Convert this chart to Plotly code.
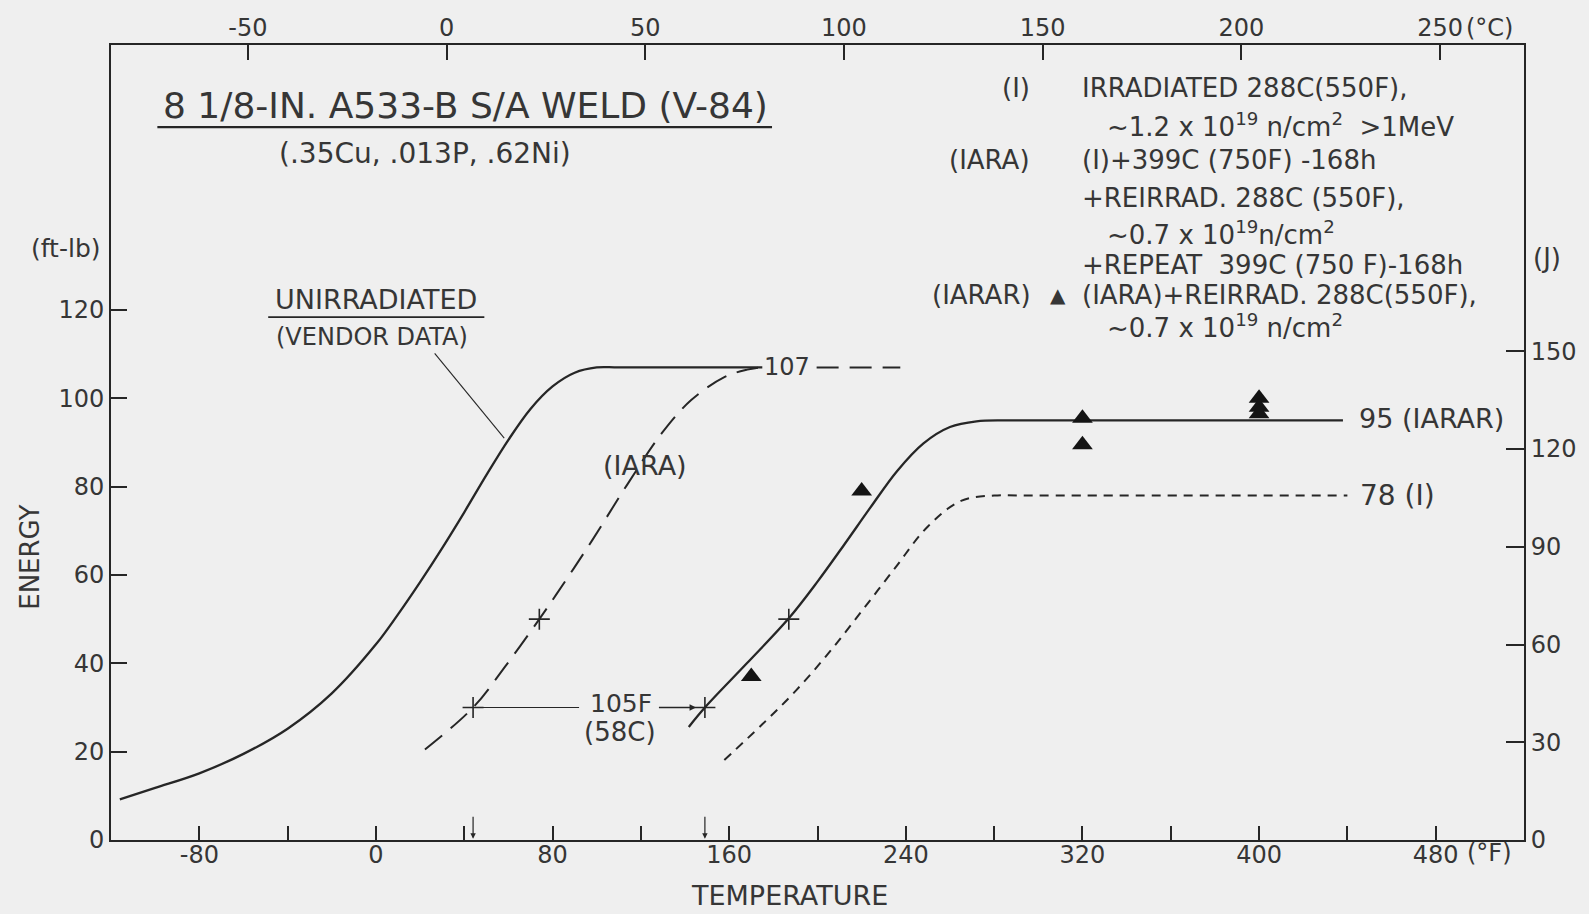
import plotly.graph_objects as go

# Charpy V-notch energy (ft-lb) vs test temperature (F), 8 1/8-in. A533-B S/A weld V-84
temp_unirradiated = [-116, -100, -80, -60, -40, -20, 0, 10, 20, 30, 40, 50, 60, 70, 80, 90, 100, 110, 175]
energy_unirradiated = [9.2, 11.8, 15.1, 19.5, 25.2, 33.2, 44.3, 51.1, 58.4, 66.1, 74.2, 82.6, 90.6,
                       97.6, 102.7, 105.8, 107, 107, 107]

temp_iara = [22.2, 44, 59, 74, 86, 98, 113.6, 129.3, 142.8, 157.8, 168.2, 174]
energy_iara = [20.5, 30, 39.6, 50, 58.8, 67.9, 80.3, 92, 99.6, 104.8, 106.5, 107]
temp_iara_shelf = [199.6, 237.5]
energy_iara_shelf = [107, 107]

temp_iarar = [141.7, 149, 168, 187, 200, 212, 224, 236, 248, 260, 272, 285, 300, 438]
energy_iarar = [25.6, 30, 40, 50.2, 58.5, 66.8, 75.3, 83.5, 89.8, 93.5, 94.8, 95, 95, 95]

temp_irr = [157.8, 175, 190, 205, 220, 235, 250, 265, 280, 295, 440]
energy_irr = [18.1, 26.2, 33.7, 42.3, 51.8, 61.5, 71.0, 76.8, 78, 78, 78]

# IARAR test results
temp_iarar_data = [170, 220, 320, 320, 400, 400, 400]
energy_iarar_data = [37, 79, 95.5, 89.5, 100, 98, 96.5]

# 30 and 50 ft-lb index temperatures
energy_index = [30, 50]
temp_index_iara = [44, 74]
temp_index_iarar = [149, 187]
shift_label = ["105F", "(58C)"]

# shelf values written at the curve ends
shelf_unirradiated = 107
shelf_iarar = 95
shelf_irr = 78

# axis ticks
f_ticks = list(range(-80, 481, 40))
f_labels = [str(t) if t % 80 == 0 else "" for t in f_ticks]
c_ticks = [-50, 0, 50, 100, 150, 200, 250]
ftlb_ticks = [0, 20, 40, 60, 80, 100, 120]
joule_ticks = [0, 30, 60, 90, 120, 150]

F_RANGE = [-120, 520]
E_RANGE = [0, 180]
FTLB_TO_J = 1.35582


def f_to_c(f):
    return (f - 32) / 1.8


def px(f):
    """temperature (F) -> paper fraction"""
    return (f - F_RANGE[0]) / (F_RANGE[1] - F_RANGE[0])


def py(e):
    """energy (ft-lb) -> paper fraction"""
    return (e - E_RANGE[0]) / (E_RANGE[1] - E_RANGE[0])


INK = "#262626"
TEXT = "#363636"
BG = "#efefef"
FONT = "DejaVu Sans"

fig = go.Figure()


def curve(x, y, dash, width):
    fig.add_trace(go.Scatter(
        x=x, y=y, mode="lines", line=dict(color=INK, width=width, dash=dash,
                                          shape="spline", smoothing=1.0),
        showlegend=False, hoverinfo="skip"))


curve(temp_unirradiated, energy_unirradiated, "solid", 2.3)
curve(temp_iara, energy_iara, "22px,11px", 2.0)
curve(temp_iara_shelf, energy_iara_shelf, "22px,11px", 2.0)
curve(temp_iarar, energy_iarar, "solid", 2.3)
curve(temp_irr, energy_irr, "9px,7px", 2.0)

# index-temperature crosses
fig.add_trace(go.Scatter(
    x=temp_index_iara + temp_index_iarar, y=energy_index + energy_index,
    mode="markers", marker=dict(symbol="cross-thin", size=15,
                                line=dict(color=INK, width=1.6)),
    showlegend=False, hoverinfo="skip"))

# IARAR data points
fig.add_trace(go.Scatter(
    x=temp_iarar_data, y=energy_iarar_data, mode="markers",
    marker=dict(symbol="triangle-up", size=18, color="#141414"),
    showlegend=False, hoverinfo="skip"))

# empty trace carrying the Celsius / Joule axes
fig.add_trace(go.Scatter(x=[None], y=[None], xaxis="x2", yaxis="y2",
                         showlegend=False, hoverinfo="skip"))

annotations = []
shapes = []


def text(x, y, s, size=23, xanchor="center", yanchor="middle", **kw):
    annotations.append(dict(x=x, y=y, xref=kw.pop("xref", "x"), yref=kw.pop("yref", "y"),
                            text=s, showarrow=False, xanchor=xanchor, yanchor=yanchor,
                            font=dict(family=FONT, size=size, color=TEXT), **kw))


def line(x0, y0, x1, y1, width=1.2):
    shapes.append(dict(type="line", xref="x", yref="y", x0=x0, y0=y0, x1=x1, y1=y1,
                       line=dict(color=INK, width=width)))


# title block
text(40.5, 166.3, "8 1/8-IN. A533-B S/A WELD (V-84)", size=36)
line(-99, 161.4, 179.4, 161.4, width=2.2)
text(22.4, 155.4, "(.35Cu, .013P, .62Ni)", size=28)

# unirradiated label with leader
text(0.2, 122.4, "UNIRRADIATED", size=27)
line(-48.8, 118.4, 49.1, 118.4, width=1.8)
text(-1.6, 113.9, "(VENDOR DATA)", size=24)
line(26.6, 110.2, 58.1, 91.0, width=1.1)

# curve-end labels
text(186.3, shelf_unirradiated, str(shelf_unirradiated), size=24)
text(444.5, shelf_iarar + 0.4, f"{shelf_iarar} (IARAR)", size=27, xanchor="left")
text(445.0, shelf_irr, f"{shelf_irr} (I)", size=28, xanchor="left")
text(121.9, 84.9, "(IARA)", size=27)

# transition temperature shift
text(111.2, 31.0, shift_label[0], size=25)
text(110.4, 24.5, shift_label[1], size=26)
line(temp_index_iara[0] + 3.5, energy_index[0], 92.0, energy_index[0], width=1.2)
annotations.append(dict(x=temp_index_iarar[0] - 4, y=energy_index[0],
                        ax=127.5, ay=energy_index[0], axref="x", ayref="y",
                        xref="x", yref="y", text="", showarrow=True,
                        arrowhead=2, arrowsize=1.0, arrowwidth=1.3, arrowcolor=INK))
for t in (temp_index_iara[0], temp_index_iarar[0]):
    annotations.append(dict(x=t, y=0.3, ax=t, ay=5.6, axref="x", ayref="y",
                            xref="x", yref="y", text="", showarrow=True,
                            arrowhead=2, arrowsize=0.9, arrowwidth=1.2, arrowcolor=INK))

# condition key
rows = [170.2, 161.9, 153.9, 145.3, 137.5, 130.3, 123.3, 116.4]
text(297, rows[0], "(I)", size=26, xanchor="right")
text(297, rows[2], "(IARA)", size=26, xanchor="right")
text(297.5, rows[6], "(IARAR)", size=26, xanchor="right")
text(309.0, rows[6], "▲", size=20)
key = [
    (319, "IRRADIATED 288C(550F),"),
    (330.3, "~1.2 x 10<sup>19</sup> n/cm<sup>2</sup>&nbsp;&nbsp;&gt;1MeV"),
    (319, "(I)+399C (750F) -168h"),
    (319, "+REIRRAD. 288C (550F),"),
    (330.3, "~0.7 x 10<sup>19</sup>n/cm<sup>2</sup>"),
    (319, "+REPEAT&nbsp;&nbsp;399C (750 F)-168h"),
    (319, "(IARA)+REIRRAD. 288C(550F),"),
    (330.3, "~0.7 x 10<sup>19</sup> n/cm<sup>2</sup>"),
]
for (x0, s), y0 in zip(key, rows):
    text(x0, y0, s, size=26, xanchor="left")

# axis titles and units (paper coordinates, they sit outside the data range)
text(-0.057, py(64), "ENERGY", size=26, xref="paper", yref="paper", textangle=-90)
text(px(187.2), -0.0915, "TEMPERATURE", size=27, xref="paper", yref="paper",
     yanchor="bottom")
text(px(-140.5), py(134), "(ft-lb)", size=25, xref="paper", yref="paper")
text(px(530.5), py(131.7), "(J)", size=26, xref="paper", yref="paper")
text(493.5, 0, "(°F)", size=24, xanchor="left", yanchor="top", yshift=3)
text(493.0, 180, "(°C)", size=24, xanchor="left", yanchor="bottom", yshift=1)

tickfont = dict(family=FONT, size=24, color=TEXT)
axis_common = dict(showline=True, linecolor=INK, linewidth=2, showgrid=False,
                   zeroline=False, ticks="inside", tickcolor=INK, tickwidth=1.5,
                   tickfont=tickfont)

fig.update_layout(
    width=1589, height=914,
    margin=dict(l=111, r=53, t=45, b=74),
    paper_bgcolor=BG, plot_bgcolor=BG,
    xaxis=dict(range=F_RANGE, tickvals=f_ticks, ticktext=f_labels, ticklen=14,
               ticklabelstandoff=-8, anchor="y", **axis_common),
    xaxis2=dict(range=[f_to_c(F_RANGE[0]), f_to_c(F_RANGE[1])], tickvals=c_ticks,
                ticktext=[str(c) for c in c_ticks], ticklen=15, overlaying="x",
                side="top", anchor="y", ticklabelstandoff=-3, **axis_common),
    yaxis=dict(range=E_RANGE, tickvals=ftlb_ticks, ticklen=16, anchor="x",
               **axis_common),
    yaxis2=dict(range=[E_RANGE[0] * FTLB_TO_J, E_RANGE[1] * FTLB_TO_J],
                tickvals=joule_ticks, ticklen=18, overlaying="y", side="right",
                anchor="x", **axis_common),
    annotations=annotations,
    shapes=shapes,
)

fig.write_html("out.html")
